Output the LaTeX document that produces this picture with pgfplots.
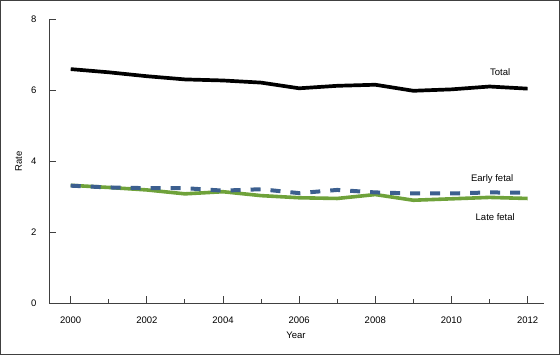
\documentclass[border=0pt]{standalone}
\usepackage{pgfplots}
\pgfplotsset{compat=1.18}
\usepackage{fontspec}
\setmainfont{Liberation Sans}
\definecolor{lategreen}{HTML}{6FA23A}
\definecolor{earlyblue}{HTML}{3C5F8F}
\definecolor{axisgray}{HTML}{404040}
\begin{document}
\begin{tikzpicture}[font=\fontsize{9.5bp}{11bp}\selectfont]
\draw[line width=1bp, color=axisgray] (0.5bp,0.5bp) rectangle (559.5bp,354.5bp);
\begin{axis}[
  at={(49bp,51.7bp)}, anchor=south west,
  scale only axis,
  width=494.6bp, height=284.3bp,
  xmin=1999.43, xmax=2012.42,
  ymin=0, ymax=8,
  axis x line*=bottom, axis y line*=left,
  axis line style={color=axisgray, line width=0.9bp, -},
  xtick={2000,2002,...,2012},
  minor xtick={2001,2003,...,2011},
  ytick={0,2,4,6,8},
  tick align=inside,
  major tick length=7bp, minor tick length=4bp,
  tick style={color=axisgray, line width=0.9bp},
  /pgf/number format/assume math mode=true,
  /pgf/number format/1000 sep={},
  xticklabel style={yshift=-10bp},
  yticklabel style={xshift=-9bp},
  xlabel={Year}, ylabel={Rate},
  xlabel style={at={(axis description cs:0.4994,-0.1115)}, anchor=center},
  ylabel style={at={(axis description cs:-0.0615,0.5)}, anchor=center, rotate=0},
  clip=false,
]
\addplot[color=lategreen, line width=3.6bp, line join=round] coordinates {
(2000,3.32) (2001,3.26) (2002,3.19) (2003,3.08) (2004,3.14) (2005,3.03) (2006,2.97)
(2007,2.95) (2008,3.06) (2009,2.90) (2010,2.94) (2011,2.98) (2012,2.95)};
\addplot[color=earlyblue, line width=4bp, dash pattern=on 10bp off 10bp] coordinates {
(2000,3.31) (2001,3.26) (2002,3.24) (2003,3.24) (2004,3.17) (2005,3.21) (2006,3.10)
(2007,3.19) (2008,3.12) (2009,3.09) (2010,3.09) (2011,3.12) (2012,3.11)};
\addplot[color=black, line width=3.7bp, line join=round] coordinates {
(2000,6.59) (2001,6.50) (2002,6.39) (2003,6.30) (2004,6.27) (2005,6.21) (2006,6.05)
(2007,6.12) (2008,6.15) (2009,5.98) (2010,6.02) (2011,6.10) (2012,6.04)};
\node at (axis cs:2011.28,6.51) {Total};
\node at (axis cs:2011.07,3.50) {Early fetal};
\node at (axis cs:2011.15,2.43) {Late fetal};
\end{axis}
\end{tikzpicture}
\end{document}
